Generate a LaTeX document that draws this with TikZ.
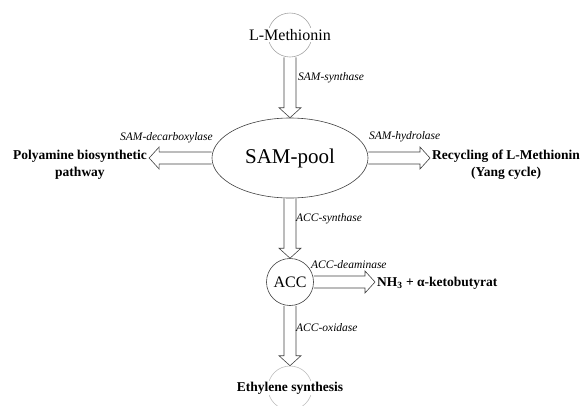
\documentclass[tikz,border=0pt]{standalone}
\usepackage{fontspec}
\setmainfont{Liberation Serif}
\usetikzlibrary{calc}
\usetikzlibrary{shapes.geometric}
\tikzstyle{fatarrow}=[draw=black!75, line width=0.6pt, to path={
  ($(\tikztostart)!6pt!90:(\tikztotarget)$)
  -- ($(\tikztotarget)!10pt!(\tikztostart)!6pt!90:(\tikztotarget)$)
  -- ($(\tikztotarget)!10pt!(\tikztostart)!11pt!90:(\tikztotarget)$)
  -- (\tikztotarget)
  -- ($(\tikztotarget)!10pt!(\tikztostart)!11pt!-90:(\tikztotarget)$)
  -- ($(\tikztotarget)!10pt!(\tikztostart)!6pt!-90:(\tikztotarget)$)
  -- ($(\tikztostart)!6pt!-90:(\tikztotarget)$)}]
\tikzset{
  ring/.style={circle, draw=black!35, line width=0.6pt, minimum size=44pt, inner sep=0pt},
  pool/.style={ellipse, draw=black!75, line width=0.6pt, minimum width=156pt, minimum height=80pt, inner sep=0pt, font=\fontsize{21}{25}\selectfont},
  accring/.style={circle, draw=black!75, line width=0.6pt, minimum size=47pt, inner sep=0pt, font=\fontsize{16}{19}\selectfont},
  metab/.style={font=\fontsize{16}{19}\selectfont, inner sep=1pt, fill=white},
  product/.style={font=\bfseries\fontsize{13.5}{17}\selectfont, align=center, inner sep=2pt},
  enzyme/.style={font=\itshape\fontsize{11.5}{14}\selectfont, inner sep=1pt}
}
\begin{document}
\begin{tikzpicture}[x=1pt, y=-1pt]
\useasboundingbox (0,0) rectangle (582,405);
% pools and metabolites
\node[ring] (metring) at (290,35) {};
\node[metab] (met) at (metring) {L-Methionin};
\node[pool] (sam) at (290,158) {SAM-pool};
\node[accring] (acc) at (290,282) {ACC};
\node[ring, draw=black!25] (ethring) at (290,388) {};
\node[product, fill=white, inner sep=1pt] (eth) at (ethring) {Ethylene synthesis};
% products
\node[product] (poly) at (80,165) {Polyamine biosynthetic\\pathway};
\node[product, anchor=west] (recyc) at (430,165) {Recycling of L-Methionin\\(Yang cycle)};
\node[product, anchor=west] (nh) at (375,283) {NH\textsubscript{3} + α-ketobutyrat};
% reactions
\draw[fatarrow] (metring.south) to (sam.north);
\draw[fatarrow] (sam.west) to (sam.west -| poly.east);
\draw[fatarrow] (sam.east) to (sam.east -| recyc.west);
\draw[fatarrow] (sam.south) to (acc.north);
\draw[fatarrow] (acc.east) to (acc.east -| nh.west);
\draw[fatarrow] (acc.south) to (ethring.north);
% enzymes
\node[enzyme, anchor=west] (samsyn) at (297,78) {SAM-synthase};
\node[enzyme, anchor=east] (samdec) at (214,138) {SAM-decarboxylase};
\node[enzyme, anchor=west] (samhyd) at (368,137) {SAM-hydrolase};
\node[enzyme, anchor=west] (accsyn) at (295,219) {ACC-synthase};
\node[enzyme, anchor=west] (accdea) at (310,265) {ACC-deaminase};
\node[enzyme, anchor=west] (accoxi) at (295,328) {ACC-oxidase};
\end{tikzpicture}
\end{document}
